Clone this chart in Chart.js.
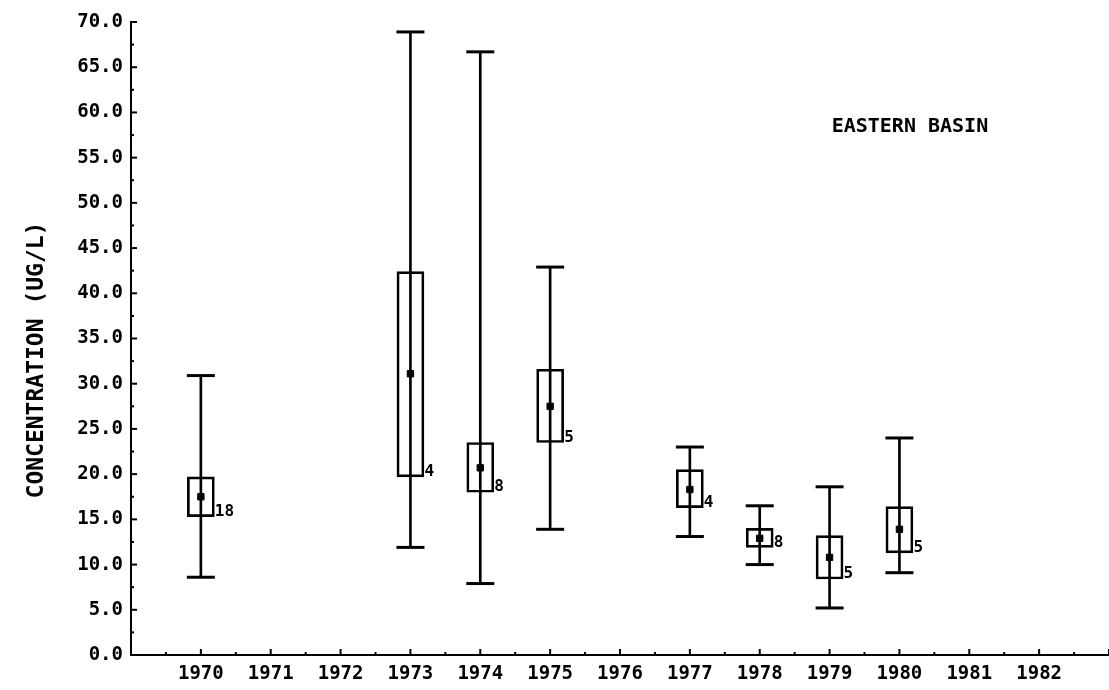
<!DOCTYPE html>
<html>
<head>
<meta charset="utf-8">
<script src="https://cdn.jsdelivr.net/npm/chart.js@4"></script>
<style>
  html, body { margin: 0; padding: 0; background: #fff; }
  #wrap { width: 1109px; height: 690px; }
</style>
</head>
<body>
<div id="wrap"><canvas id="boxChart" width="1109" height="690"></canvas></div>
<script>
// Yearly concentration box plots, Eastern Basin

const years = [1970, 1973, 1974, 1975, 1977, 1978, 1979, 1980];
const whiskerLow = [8.6, 11.9, 7.9, 13.9, 13.1, 10.0, 5.2, 9.1];
const boxLow = [15.3, 19.7, 18.0, 23.5, 16.3, 11.9, 8.4, 11.3];
const means = [17.5, 31.1, 20.7, 27.5, 18.3, 12.9, 10.8, 13.9];
const boxHigh = [19.7, 42.4, 23.5, 31.6, 20.5, 14.0, 13.2, 16.4];
const whiskerHigh = [30.9, 68.9, 66.7, 42.9, 23.0, 16.5, 18.6, 24.0];
const counts = [18, 4, 8, 5, 4, 8, 5, 5];

const yearLabels = [1970, 1971, 1972, 1973, 1974, 1975, 1976, 1977, 1978, 1979, 1980, 1981, 1982];
const yTicks = [0, 5, 10, 15, 20, 25, 30, 35, 40, 45, 50, 55, 60, 65, 70];

const yTitle = 'CONCENTRATION (UG/L)';
const panelTitle = 'EASTERN BASIN';

const MONO = "'DejaVu Sans Mono', monospace";

// extra drawing: axis tick marks, count labels, titles
const extras = {
    id: 'extras',
    afterDatasetsDraw(chart) {
        const ctx = chart.ctx;
        const x = chart.scales.x;
        const y = chart.scales.y;
        const area = chart.chartArea;
        ctx.save();
        ctx.strokeStyle = '#000';
        ctx.lineWidth = 2;

        // y ticks point into the plot
        for (let v = 0; v <= 70; v += 2.5) {
            const py = y.getPixelForValue(v);
            const len = (v % 5 === 0) ? 6 : 3;
            ctx.beginPath();
            ctx.moveTo(area.left, py);
            ctx.lineTo(area.left + len, py);
            ctx.stroke();
        }
        // x ticks point up
        for (let v = 1969; v <= 1983; v += 0.5) {
            const px = x.getPixelForValue(v);
            const len = (v % 1 === 0) ? 6 : 3;
            ctx.beginPath();
            ctx.moveTo(px, area.bottom);
            ctx.lineTo(px, area.bottom - len);
            ctx.stroke();
        }

        // sample counts next to each box
        ctx.fillStyle = '#000';
        ctx.font = 'bold 16px ' + MONO;
        ctx.textBaseline = 'middle';
        ctx.textAlign = 'left';
        years.forEach((yr, i) => {
            const px = x.getPixelForValue(yr) + 14;
            const py = y.getPixelForValue(boxLow[i]) - 5;
            ctx.fillText(String(counts[i]), px, py);
        });

        // panel title
        ctx.font = 'bold 20px ' + MONO;
        ctx.textAlign = 'center';
        ctx.fillText(panelTitle, x.getPixelForValue(1980.15), y.getPixelForValue(58.4));

        // y axis title
        ctx.translate(37, 360);
        ctx.rotate(-Math.PI / 2);
        ctx.font = 'bold 23px ' + MONO;
        ctx.fillText(yTitle, 0, 0);
        ctx.restore();
    }
};

const ctx = document.getElementById('boxChart').getContext('2d');

const boxChart = new Chart(ctx, {
    type: 'bar',
    data: {
        datasets: [
            {
                // whisker stems
                label: 'range',
                data: years.map((yr, i) => ({ x: yr, y: [whiskerLow[i], whiskerHigh[i]] })),
                backgroundColor: '#000',
                borderWidth: 0,
                barThickness: 2,
                grouped: false,
                order: 3
            },
            {
                // interquartile boxes
                label: 'box',
                data: years.map((yr, i) => ({ x: yr, y: [boxLow[i], boxHigh[i]] })),
                backgroundColor: 'rgba(0,0,0,0)',
                borderColor: '#000',
                borderWidth: 2,
                borderSkipped: false,
                barThickness: 27,
                grouped: false,
                order: 2
            },
            {
                // whisker caps
                type: 'scatter',
                label: 'caps',
                data: years.map((yr, i) => ({ x: yr, y: whiskerLow[i] }))
                    .concat(years.map((yr, i) => ({ x: yr, y: whiskerHigh[i] }))),
                pointStyle: 'line',
                pointRadius: 14,
                borderColor: '#000',
                borderWidth: 3,
                order: 1
            },
            {
                // means
                type: 'scatter',
                label: 'mean',
                data: years.map((yr, i) => ({ x: yr, y: means[i] })),
                pointStyle: 'rect',
                pointRadius: 4.5,
                backgroundColor: '#000',
                borderColor: '#000',
                borderWidth: 1,
                order: 0
            }
        ]
    },
    options: {
        responsive: false,
        animation: false,
        layout: {
            autoPadding: false,
            padding: { top: 22, right: 0, bottom: 0, left: 0 }
        },
        plugins: {
            legend: { display: false },
            tooltip: { enabled: false }
        },
        scales: {
            x: {
                type: 'linear',
                min: 1969,
                max: 1983,
                offset: false,
                afterFit: s => {
                    s.height = 35;
                    s.paddingLeft = 0;
                    s.paddingRight = 0;
                },
                afterBuildTicks: s => {
                    s.ticks = [1969].concat(yearLabels, [1983]).map(v => ({ value: v }));
                },
                ticks: {
                    color: '#000',
                    padding: 0,
                    maxRotation: 0,
                    autoSkip: false,
                    font: { family: MONO, weight: 'bold', size: 19 },
                    callback: v => yearLabels.includes(v) ? String(v) : ''
                },
                grid: { display: false },
                border: { display: true, color: '#000', width: 2 }
            },
            y: {
                min: 0,
                max: 70,
                afterFit: s => { s.width = 131; },
                afterBuildTicks: s => { s.ticks = yTicks.map(v => ({ value: v })); },
                ticks: {
                    color: '#000',
                    padding: 0,
                    font: { family: MONO, weight: 'bold', size: 19 },
                    callback: v => v.toFixed(1)
                },
                grid: { display: false },
                border: { display: true, color: '#000', width: 2 }
            }
        }
    },
    plugins: [extras]
});
</script>
</body>
</html>
